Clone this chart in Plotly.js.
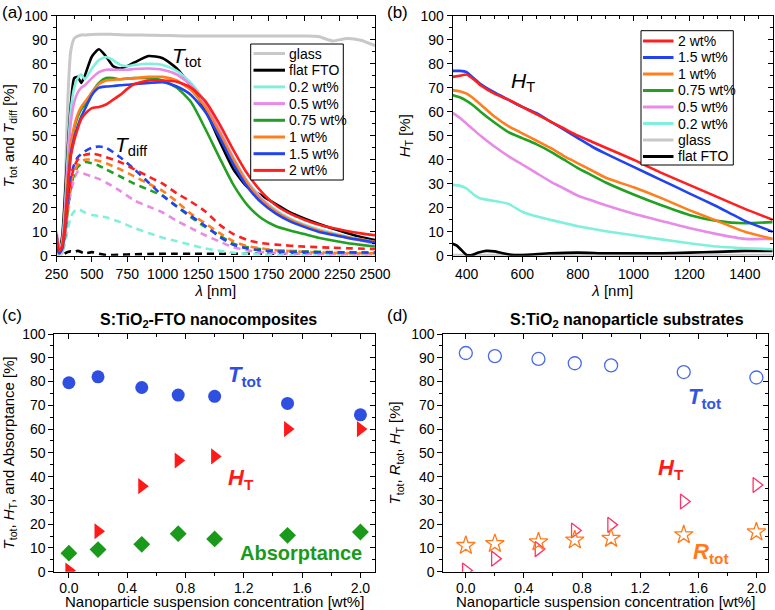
<!DOCTYPE html>
<html><head><meta charset="utf-8">
<script src="https://cdn.plot.ly/plotly-3.0.1.min.js"></script>
<style>body{margin:0;background:#fff;} #chart{width:775px;height:610px;}</style>
</head><body><div id="chart"></div>
<script>
// ---------- Panel (a): total transmittance (solid) ----------
const lamTot = [250,270,290,310,330,350,375,400,425,450,500,550,600,650,700,750,800,900,1000,1100,1200,1300,1400,1500,1600,1700,1800,1900,2000,2100,2200,2300,2400,2500];
const totGlass  = [0,0,1,25,65,85,90.5,91.5,92,92,92.2,92.3,92.3,92.2,92.1,92,92,91.9,91.8,91.6,91.5,91.5,91.5,91.5,91.5,91.5,91.5,91.5,91.5,91.3,89.5,90.5,89.8,87.5];
const totFTO    = [8,2,8,25,45,62,74,74.5,72,75,83,86,83,79,78,79,80.5,83.2,82.3,78,70.5,61,48,36,28.5,25,21.5,18,15.5,13.3,11.3,9.5,7.8,6.5];
const tot02     = [8,2,6,20,42,60,70,74,75.5,73.5,78,81.5,82.8,81.5,79.5,79,79.5,80,79.5,77,72,64,53,41,31,24,19,15.5,13,11,9.5,8,6.8,5.5];
const tot05     = [10,3,5,18,38,55,64,68,70,71,74,76.5,77.5,77.5,77.5,77.5,77.8,78,77.5,75.5,71,63.5,52.5,40.5,30.5,23.5,18.5,15,12.5,10.5,9,7.5,6.3,5];
const tot075    = [5,1,3,12,30,45,53,58,61,63,68,72,74,74,73.5,73.8,74,74,73,70,64,53,41,29.5,21,15.5,12.3,10.5,9,7.5,6.3,5.3,4.5,3.8];
const tot1      = [6,1.5,4,14,32,46,54,59,62,64,68,71.5,73,73.3,73.5,73.8,74,74.5,74.5,73,69,62,51.5,40,30,23,18.3,15,12.5,10.5,9,7.8,6.8,5.8];
const tot15     = [6,1,3,12,28,42,49,54,58,61,67,70,70.5,70.7,71,71.2,71.5,72,72.3,70.5,67,60,49.5,38,28.5,22,17.5,14.3,12,10,8.7,7.5,6.5,5.5];
const tot2      = [9,2,4,12,28,41,48,53,57,59,61.5,62,63,65,67,69.5,71.5,73,73,72.5,70,64.5,55,44,34,26.5,21,17.5,15,13,11.5,10.3,9.3,8.5];

// ---------- Panel (a): diffuse transmittance (dashed) ----------
const lamDif = [250,270,290,310,330,350,375,400,450,500,550,600,700,800,900,1000,1100,1200,1300,1400,1500,1600,1700,1800,2000,2200,2500];
const difFTO = [3,0.5,0.5,1,1.5,1.8,1.5,2,1,1.5,0.8,0.3,0.4,0.6,0.7,0.8,0.8,0.8,0.8,0.8,0.8,0.8,0.8,0.8,0.8,0.8,0.8];
const dif02  = [3,0.5,1.5,5,11,16,18.5,19.5,18,17,16.5,16,14,11.5,9.5,7.5,6,4.5,3,2,1.2,0.8,0.5,0.4,0.3,0.3,0.3];
const dif05  = [10,2,3,8,18,26,32,35,34,33,32,30.5,27,23,20.5,18,14.5,11.5,8.5,6,3.5,2.2,1.5,1.1,0.8,0.6,0.5];
const dif075 = [4,0.5,2,8,19,28,34,37,39,38.5,37.5,36,33,30,27.5,25,20.5,16,12,8.5,5,3.5,2.6,2.2,1.8,1.5,1.3];
const dif1   = [5,1,3,10,21,30,35,38,40,40,39.5,38.5,36,33,30,27,22.5,17.5,13.5,9.5,6,4,3,2.3,1.6,1.2,1];
const dif15  = [6,1,4,12,24,33,38,41,43.5,45,45.5,45,41,36,30.5,25,20.5,16.5,12.5,8,4.5,3,2.2,1.8,1.5,1.4,1.3];
const dif2   = [8,1,3,10,22,31,37,40,42,42.5,42,41,39,36,33,30,26,22.5,18.5,13,9,6.5,5.2,4.6,3.8,3.3,2.8];

// ---------- Panel (b): haze ----------
const lamHaze = [350,375,400,425,450,500,550,600,650,700,750,800,850,900,1000,1100,1200,1300,1400,1500];
const haze2   = [74.5,75,75.5,73.5,71,67.5,65,62,59,56,53,50,47.5,45,40,34.5,29.5,24.5,19.5,15];
const haze15  = [77,77,76.5,74,71.5,68,65,62,59.5,56,52.5,49,45.5,42.5,37,31.5,26,20.5,14.5,10];
const haze1   = [69,68.5,67.5,65.5,63,58,54,51,48,45,41.5,38.5,35.5,32.5,28.5,24,19,14.5,10,7];
const haze075 = [67,66,64.5,62.5,60,55.5,51.5,49,46.5,43.5,40,36.5,33.5,30.5,25.5,21,17,14.5,13.5,14];
const haze05  = [59.5,57.5,55,52.5,50,45.5,41.5,38,34.5,31,28,25,23,21,17.5,14.5,11.5,9,7,7];
const haze02  = [29.5,29.2,28,25.5,23.8,22.8,21.6,18.3,16.4,15,13.6,12.3,11.2,10.2,8.5,6.8,5.2,3.8,3.1,2.7];
const hazeGlass = [0.3,0.3,0.3,0.3,0.3,0.3,0.3,0.3,0.3,0.3,0.3,0.3,0.3,0.3,0.3,0.3,0.3,0.3,0.3,0.3];
const lamHazeFTO = [350,365,380,400,420,440,470,500,530,560,600,700,800,900,1000,1100,1200,1300,1400,1500];
const hazeFTO = [5,4.2,2.5,0.3,0.3,1.2,2,1.8,1,0.4,0.3,1,1.3,1,1,1,1.3,1.6,2,2];

// ---------- Panels (c), (d) ----------
const conc = [0,0.2,0.5,0.75,1.0,1.5,2.0];
const cTtot = [79.5,82,77.5,74.3,73.8,70.8,66];
const cHT   = [0.5,17,36,46.8,48.5,60,60];
const cAbs  = [7.8,9.3,11.5,16,13.8,15.3,16.7];
const dTtot = [92,90.7,89.5,87.7,86.8,84,81.7];
const dHT   = [0.5,5.5,9.5,17.3,19.7,29.5,36.5];
const dRtot = [11,11.8,12.5,13.3,14,15.5,16.7];

const legendNames = ['glass','flat FTO','0.2 wt%','0.5 wt%','0.75 wt%','1 wt%','1.5 wt%','2 wt%'];
const colors = ['#c8c8c8','#000000','#7ff0dc','#e88ae8','#22a022','#ff7f1e','#2244ee','#ff1f1f'];
const legendOrderA = [0,1,2,3,4,5,6,7];
const legendOrderB = [7,6,5,4,3,2,0,1];

const W = 775, H = 610;
const px = v => v / W;
const py = v => 1 - v / H;
const FONT = 'Liberation Sans, Arial, sans-serif';

const traces = [];
const totSeries = [totGlass, totFTO, tot02, tot05, tot075, tot1, tot15, tot2];
const difSeries = [null, difFTO, dif02, dif05, dif075, dif1, dif15, dif2];
difSeries.forEach((s, i) => {
  if (!s) return;
  traces.push({x: lamDif, y: s, xaxis: 'x', yaxis: 'y', mode: 'lines', showlegend: false,
    line: {color: colors[i], width: 2.6, dash: '7px,5px', shape: 'spline', smoothing: 0.6}, hoverinfo: 'skip'});
});
totSeries.forEach((s, i) => {
  traces.push({x: lamTot, y: s, xaxis: 'x', yaxis: 'y', mode: 'lines', name: legendNames[i], showlegend: false,
    line: {color: colors[i], width: i === 0 ? 3 : 2.6, shape: 'spline', smoothing: 0.6}, hoverinfo: 'skip'});
});
const hazeSeries = [hazeGlass, hazeFTO, haze02, haze05, haze075, haze1, haze15, haze2];
hazeSeries.forEach((s, i) => {
  traces.push({x: i === 1 ? lamHazeFTO : lamHaze, y: s, xaxis: 'x2', yaxis: 'y2', mode: 'lines', name: legendNames[i],
    showlegend: false, line: {color: colors[i], width: 2.6, shape: 'spline', smoothing: 0.45}, hoverinfo: 'skip'});
});
traces.push({x: conc, y: cTtot, xaxis: 'x3', yaxis: 'y3', mode: 'markers', showlegend: false,
  marker: {symbol: 'circle', size: 13, color: '#2f4fe0'}});
traces.push({x: conc, y: cHT, xaxis: 'x3', yaxis: 'y3', mode: 'markers', showlegend: false,
  marker: {symbol: 'triangle-right', size: 14, color: '#ff1a1a'}});
traces.push({x: conc, y: cAbs, xaxis: 'x3', yaxis: 'y3', mode: 'markers', showlegend: false,
  marker: {symbol: 'diamond', size: 13, color: '#1a9a1a'}});
traces.push({x: conc, y: dTtot, xaxis: 'x4', yaxis: 'y4', mode: 'markers', showlegend: false,
  marker: {symbol: 'circle-open', size: 13, color: '#4a6ae8', line: {width: 1.3}}});
traces.push({x: conc, y: dHT, xaxis: 'x4', yaxis: 'y4', mode: 'markers', showlegend: false,
  marker: {symbol: 'triangle-right-open', size: 13, color: '#ff3366', line: {width: 1.3}}});
traces.push({x: conc, y: dRtot, xaxis: 'x4', yaxis: 'y4', mode: 'markers', showlegend: false,
  marker: {symbol: 'star-open', size: 14, color: '#ff7a1a', line: {width: 1.3}}});
for (let k = 5; k <= 8; k++) {
  traces.push({x: [null], y: [null], xaxis: 'x' + k, yaxis: 'y' + k, mode: 'markers', showlegend: false, hoverinfo: 'skip'});
}

function mainAx(o) {
  return Object.assign({
    showline: true, linecolor: '#000', linewidth: 1, mirror: true,
    ticks: 'outside', ticklen: 5, tickcolor: '#000', tickwidth: 1,
    showgrid: false, zeroline: false, fixedrange: true,
    tickfont: {family: FONT, size: 14, color: '#000'}
  }, o);
}
function mirAx(o) {
  return Object.assign({
    showline: false, ticks: 'inside', ticklen: 5, tickcolor: '#000', tickwidth: 1,
    showticklabels: false, showgrid: false, zeroline: false, fixedrange: true
  }, o);
}
const titleFont = {family: FONT, size: 15, color: '#000'};
const doms = {
  a: {x: [px(56.5), px(375)], y: [py(255.7), py(15.7)]},
  b: {x: [px(452.7), px(772.7)], y: [py(255.7), py(15.7)]},
  c: {x: [px(54.3), px(375)], y: [py(571.7), py(334)]},
  d: {x: [px(443.3), px(768)], y: [py(571.7), py(334)]}
};
const axA_x = {range: [250, 2500], tick0: 250, dtick: 250, minor: {dtick: 125, ticklen: 3, ticks: 'outside', tickcolor: '#000'}};
const axA_y = {range: [0, 100], dtick: 10, minor: {dtick: 5, ticklen: 3, ticks: 'outside', tickcolor: '#000'}};
const axB_x = {range: [350, 1500], tick0: 400, dtick: 200, minor: {dtick: 50, ticklen: 3, ticks: 'outside', tickcolor: '#000'}};
const axC_x = {range: [-0.1, 2.1], tick0: 0, dtick: 0.4, tickformat: '.1f', minor: {dtick: 0.2, ticklen: 3, ticks: 'outside', tickcolor: '#000'}};
const axD_x = {range: [-0.155, 2.08], tick0: 0, dtick: 0.4, tickformat: '.1f', minor: {dtick: 0.2, ticklen: 3, ticks: 'outside', tickcolor: '#000'}};
function inMinor(a) { return Object.assign({}, a, {minor: Object.assign({}, a.minor, {ticks: 'inside'})}); }

// ----- boxed legends drawn as decoration -----
const shapes = [], legendAnn = [];
function buildLegend(order, box, firstY, step, lineX0, lineX1, textX) {
  shapes.push({type: 'rect', xref: 'paper', yref: 'paper', x0: px(box[0]), x1: px(box[2]), y0: py(box[3]), y1: py(box[1]),
    line: {color: '#000', width: 1}, fillcolor: '#fff', layer: 'above'});
  order.forEach((k, r) => {
    const yy = firstY + r * step;
    shapes.push({type: 'line', xref: 'paper', yref: 'paper', x0: px(lineX0), x1: px(lineX1), y0: py(yy), y1: py(yy),
      line: {color: colors[k], width: 3}, layer: 'above'});
    legendAnn.push({text: legendNames[k], x: px(textX), y: py(yy), xanchor: 'left', yanchor: 'middle',
      font: {family: FONT, size: 14, color: '#000'}});
  });
}
buildLegend(legendOrderA, [250.7, 44, 343.3, 180], 53.5, 16.7, 253.5, 285, 287);
buildLegend(legendOrderB, [641, 30.7, 733.3, 165], 41, 16.5, 643, 673.5, 676);

const ann = [
  {text: '(a)', x: px(0), y: py(1), xanchor: 'left', yanchor: 'top', font: {family: FONT, size: 17}},
  {text: '(b)', x: px(385), y: py(1), xanchor: 'left', yanchor: 'top', font: {family: FONT, size: 17}},
  {text: '(c)', x: px(0), y: py(304), xanchor: 'left', yanchor: 'top', font: {family: FONT, size: 17}},
  {text: '(d)', x: px(385), y: py(304), xanchor: 'left', yanchor: 'top', font: {family: FONT, size: 17}},
  {text: '<i>T</i><sub>tot</sub>', x: px(186), y: py(57), font: {family: FONT, size: 21}},
  {text: '<i>T</i><sub>diff</sub>', x: px(131), y: py(146), font: {family: FONT, size: 21}},
  {text: '<i>H</i><sub>T</sub>', x: px(523), y: py(82), font: {family: FONT, size: 21}},
  {text: '<b>S:TiO<sub>2</sub>-FTO nanocomposites</b>', x: px(208), y: py(320), font: {family: FONT, size: 16}},
  {text: '<b>S:TiO<sub>2</sub> nanoparticle substrates</b>', x: px(627), y: py(320), font: {family: FONT, size: 16}},
  {text: '<b><i>T</i><sub>tot</sub></b>', x: px(245), y: py(376), font: {family: FONT, size: 22, color: '#2f4fe0'}},
  {text: '<b><i>H</i><sub>T</sub></b>', x: px(241), y: py(479), font: {family: FONT, size: 22, color: '#ff1a1a'}},
  {text: '<b>Absorptance</b>', x: px(301), y: py(553), font: {family: FONT, size: 20, color: '#1a9a1a'}},
  {text: '<b><i>T</i><sub>tot</sub></b>', x: px(704), y: py(398), font: {family: FONT, size: 22, color: '#3355dd'}},
  {text: '<b><i>H</i><sub>T</sub></b>', x: px(671), y: py(469), font: {family: FONT, size: 22, color: '#ff1a1a'}},
  {text: '<b><i>R</i><sub>tot</sub></b>', x: px(711), y: py(553), font: {family: FONT, size: 22, color: '#ff7a1a'}}
].map(a => Object.assign({xanchor: 'center', yanchor: 'middle'}, a));

const layout = {
  width: W, height: H, margin: {l: 0, r: 0, t: 0, b: 0},
  paper_bgcolor: '#fff', plot_bgcolor: '#fff', showlegend: false,
  font: {family: FONT, size: 14, color: '#000'},
  xaxis: mainAx(Object.assign({}, axA_x, {domain: doms.a.x, anchor: 'y', title: {text: '<i>λ</i> [nm]', font: titleFont, standoff: 4}})),
  yaxis: mainAx(Object.assign({}, axA_y, {domain: doms.a.y, anchor: 'x', title: {text: '<i>T</i><sub>tot</sub> and <i>T</i><sub>diff</sub> [%]', font: titleFont, standoff: 6}})),
  xaxis2: mainAx(Object.assign({}, axB_x, {domain: doms.b.x, anchor: 'y2', title: {text: '<i>λ</i> [nm]', font: titleFont, standoff: 4}})),
  yaxis2: mainAx(Object.assign({}, axA_y, {domain: doms.b.y, anchor: 'x2', title: {text: '<i>H</i><sub>T</sub> [%]', font: titleFont, standoff: 6}})),
  xaxis3: mainAx(Object.assign({}, axC_x, {domain: doms.c.x, anchor: 'y3', ticklabelstandoff: -2, title: {text: 'Nanoparticle suspension concentration [wt%]', font: titleFont, standoff: 0}})),
  yaxis3: mainAx(Object.assign({}, axA_y, {domain: doms.c.y, anchor: 'x3', title: {text: '<i>T</i><sub>tot</sub>, <i>H</i><sub>T</sub>, and Absorptance [%]', font: titleFont, standoff: 6}})),
  xaxis4: mainAx(Object.assign({}, axD_x, {domain: doms.d.x, anchor: 'y4', ticklabelstandoff: -2, title: {text: 'Nanoparticle suspension concentration [wt%]', font: titleFont, standoff: 0}})),
  yaxis4: mainAx(Object.assign({}, axA_y, {domain: doms.d.y, anchor: 'x4', title: {text: '<i>T</i><sub>tot</sub>, <i>R</i><sub>tot</sub>, <i>H</i><sub>T</sub> [%]', font: titleFont, standoff: 6}})),
  xaxis5: mirAx(Object.assign(inMinor(axA_x), {overlaying: 'x', anchor: 'y', side: 'top'})),
  yaxis5: mirAx(Object.assign(inMinor(axA_y), {overlaying: 'y', anchor: 'x', side: 'right'})),
  xaxis6: mirAx(Object.assign(inMinor(axB_x), {overlaying: 'x2', anchor: 'y2', side: 'top'})),
  yaxis6: mirAx(Object.assign(inMinor(axA_y), {overlaying: 'y2', anchor: 'x2', side: 'right'})),
  xaxis7: mirAx(Object.assign(inMinor(axC_x), {overlaying: 'x3', anchor: 'y3', side: 'top'})),
  yaxis7: mirAx(Object.assign(inMinor(axA_y), {overlaying: 'y3', anchor: 'x3', side: 'right'})),
  xaxis8: mirAx(Object.assign(inMinor(axD_x), {overlaying: 'x4', anchor: 'y4', side: 'top'})),
  yaxis8: mirAx(Object.assign(inMinor(axA_y), {overlaying: 'y4', anchor: 'x4', side: 'right'})),
  shapes: shapes,
  annotations: ann.concat(legendAnn).map(a => Object.assign({xref: 'paper', yref: 'paper', showarrow: false}, a))
};
Plotly.newPlot('chart', traces, layout, {staticPlot: true, displayModeBar: false});
</script>
</body></html>
